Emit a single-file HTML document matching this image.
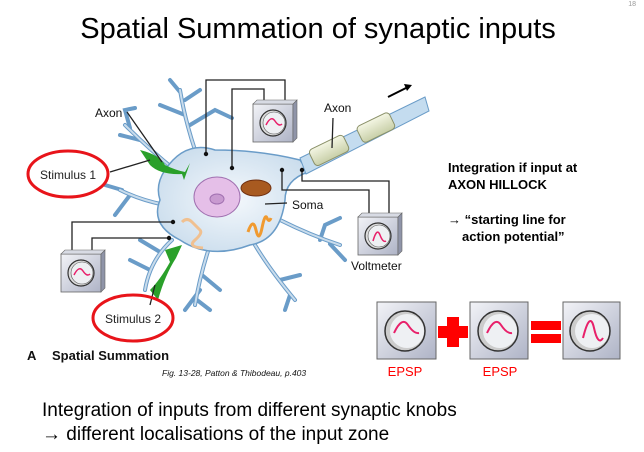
<!DOCTYPE html>
<html><head><meta charset="utf-8"><style>
body{margin:0;background:#fff;}
svg{display:block;font-family:"Liberation Sans",sans-serif;}
</style></head><body>
<svg width="644" height="452" viewBox="0 0 644 452" xmlns="http://www.w3.org/2000/svg">
<defs>
<radialGradient id="soma" cx="0.5" cy="0.5" r="0.6"><stop offset="0" stop-color="#f4f8fc"/><stop offset="1" stop-color="#c9dcec"/></radialGradient>
<linearGradient id="box" x1="0" y1="0" x2="1" y2="1"><stop offset="0" stop-color="#f2f3f7"/><stop offset="1" stop-color="#aeb3c6"/></linearGradient>
<linearGradient id="myel" x1="0" y1="0" x2="0" y2="1"><stop offset="0" stop-color="#f4f6e4"/><stop offset="1" stop-color="#c8cfa8"/></linearGradient>
<g id="vmb">
<rect x="0" y="4" width="40" height="38" fill="url(#box)" stroke="#666" stroke-width="0.8"/>
<path d="M40 4 L44 0 L44 38 L40 42Z" fill="#8f94a8" stroke="#666" stroke-width="0.6"/>
<path d="M0 4 L4 0 L44 0 L40 4Z" fill="#d8dbe4" stroke="#666" stroke-width="0.6"/>
<circle cx="20" cy="23" r="13" fill="#ddd" stroke="#333" stroke-width="1.2"/>
<circle cx="21" cy="23" r="11" fill="#eef0f3" stroke="#555" stroke-width="0.6"/>
</g>
<g id="vm"><use href="#vmb"/><path d="M13 25 Q18 15 22 21 T29 24" fill="none" stroke="#e8206a" stroke-width="1.5"/></g>
<g id="vmp"><use href="#vmb"/><path d="M15 28 Q19 14 22 22 T28 28" fill="none" stroke="#e8206a" stroke-width="1.5"/></g>
</defs>
<text x="636" y="6" font-size="7" fill="#999" text-anchor="end">18</text>
<text x="318" y="38" font-size="29" text-anchor="middle" fill="#000">Spatial Summation of synaptic inputs</text>

<g fill="none" stroke="#6a9cc8" stroke-width="4" stroke-linecap="round">
<path d="M195 150 Q185 120 180 90 M185 115 L160 105 M180 92 L170 80 M185 100 L200 90 M190 125 L215 110 L232 118"/>
<path d="M175 170 Q150 150 125 125 M140 140 L120 135 M130 128 L125 110 L135 108"/>
<path d="M165 205 Q140 200 120 190 M130 195 L115 215 M122 190 L105 185"/>
<path d="M172 240 Q150 260 145 290 M150 270 L130 260 M160 252 L140 240"/>
<path d="M210 245 Q200 275 195 305 M200 290 L185 310 M197 300 L210 310 M202 275 L220 290"/>
<path d="M255 245 Q270 270 295 300 M280 280 L300 275 M290 295 L285 310"/>
<path d="M280 220 Q310 235 340 245 M320 240 L325 225 L340 218 M330 244 L345 260"/>
</g>
<g fill="none" stroke="#c9dcec" stroke-width="2" stroke-linecap="round">
<path d="M195 150 Q185 120 180 90 M175 170 Q150 150 125 125 M165 205 Q140 200 120 190 M172 240 Q150 260 145 290 M210 245 Q200 275 195 305 M255 245 Q270 270 295 300 M280 220 Q310 235 340 245"/>
</g>
<path d="M165 170 Q185 140 215 150 Q260 150 300 160 L308 172 Q285 180 285 200 Q280 240 250 245 Q210 260 180 240 Q150 225 160 200 Q155 185 165 170Z" fill="url(#soma)" stroke="#6a9cc8" stroke-width="1.5"/>
<path d="M300 158 L425 97 L429 111 L306 174Z" fill="#c4dcef" stroke="#6a9cc8" stroke-width="1"/>
<g transform="rotate(-26 330 150)"><rect x="310" y="141" width="38" height="18" rx="4" fill="url(#myel)" stroke="#8a9068"/></g>
<g transform="rotate(-26 375 128)"><rect x="358" y="119" width="36" height="18" rx="4" fill="url(#myel)" stroke="#8a9068"/></g>
<path d="M388 97 L410 86" stroke="#000" stroke-width="2"/><path d="M412 85 L404 84 L407 91Z" fill="#000"/>
<ellipse cx="217" cy="197" rx="23" ry="20" fill="#e5bfe8" stroke="#a070b0"/>
<ellipse cx="217" cy="199" rx="7" ry="5" fill="#c89ad0" stroke="#a070b0"/>
<ellipse cx="256" cy="188" rx="15" ry="8" fill="#a85a20" stroke="#703010"/>
<path d="M182 222 q5 -5 10 0 t8 8 t-5 10 t8 8" fill="none" stroke="#f0c090" stroke-width="3"/>
<path d="M248 232 q5 -15 8 -2 t6 -2 t5 -10 t4 0" fill="none" stroke="#f09a30" stroke-width="3"/>
<path d="M140 150 Q160 155 165 165 Q175 170 185 172 L190 163 L184 180 L182 174 Q160 175 150 165" fill="#2aa02a"/>
<path d="M150 290 Q160 280 170 262 L165 250 L182 245 L176 258 Q165 275 158 300Z" fill="#2aa02a"/>
<g fill="none" stroke="#222" stroke-width="1.3">
<path d="M206 153 L206 80 L285 80 L285 104"/>
<path d="M232 168 L232 89 L264 89 L264 104"/>
<path d="M282 170 L282 190 L369 190 L369 214"/>
<path d="M302 170 L302 181 L389 181 L389 214"/>
<path d="M173 222 L72 222 L72 252"/>
<path d="M169 238 L92 238 L92 252"/>
<path d="M127 112 L162 162 M110 172 L150 160 M150 305 L155 285 M265 204 L287 203 M333 118 L332 148"/>
</g>
<g fill="#111"><circle cx="206" cy="154" r="2.2"/><circle cx="232" cy="168" r="2.2"/><circle cx="282" cy="170" r="2.2"/><circle cx="302" cy="170" r="2.2"/><circle cx="173" cy="222" r="2.2"/><circle cx="169" cy="238" r="2.2"/></g>
<use href="#vm" transform="translate(253,100)"/>
<use href="#vmp" transform="translate(358,213)"/>
<use href="#vm" transform="translate(61,250)"/>
<g font-size="12" fill="#111">
<text x="95" y="117">Axon</text><text x="324" y="112">Axon</text><text x="292" y="209">Soma</text><text x="351" y="270">Voltmeter</text>
</g>
<ellipse cx="68" cy="174" rx="40" ry="23" fill="none" stroke="#e8141a" stroke-width="3"/>
<text x="68" y="179" font-size="12" text-anchor="middle" fill="#222">Stimulus 1</text>
<ellipse cx="133" cy="318" rx="40" ry="23" fill="none" stroke="#e8141a" stroke-width="3"/>
<text x="133" y="323" font-size="12" text-anchor="middle" fill="#222">Stimulus 2</text>
<text x="27" y="360" font-size="13" font-weight="bold" fill="#111">A</text>
<text x="52" y="360" font-size="13" font-weight="bold" fill="#111">Spatial Summation</text>
<text x="162" y="376" font-size="8.5" font-style="italic" fill="#111">Fig. 13-28, Patton &amp; Thibodeau, p.403</text>
<g font-size="13" font-weight="bold" fill="#000">
<text x="448" y="172">Integration if input at</text>
<text x="448" y="189">AXON HILLOCK</text>
<text x="448" y="224">→ “starting line for</text>
<text x="462" y="241">action potential”</text>
</g>
<g>
<rect x="377" y="302" width="59" height="57" fill="url(#box)" stroke="#666"/>
<circle cx="405" cy="331" r="20" fill="#ccc" stroke="#333" stroke-width="1.5"/><circle cx="407" cy="331" r="17" fill="#eef0f3"/>
<path d="M394 333 Q402 316 408 325 T419 333" fill="none" stroke="#e8206a" stroke-width="2"/>
<rect x="470" y="302" width="58" height="57" fill="url(#box)" stroke="#666"/>
<circle cx="498" cy="331" r="20" fill="#ccc" stroke="#333" stroke-width="1.5"/><circle cx="500" cy="331" r="17" fill="#eef0f3"/>
<path d="M487 333 Q495 316 501 325 T512 333" fill="none" stroke="#e8206a" stroke-width="2"/>
<rect x="563" y="302" width="57" height="57" fill="url(#box)" stroke="#666"/>
<circle cx="590" cy="331" r="20" fill="#ccc" stroke="#333" stroke-width="1.5"/><circle cx="592" cy="331" r="17" fill="#eef0f3"/>
<path d="M583 338 Q590 310 594 328 T603 338" fill="none" stroke="#e8206a" stroke-width="2"/>
<rect x="438" y="326" width="30" height="12" fill="#f00"/><rect x="447" y="317" width="12" height="30" fill="#f00"/>
<rect x="531" y="321" width="30" height="9" fill="#f00"/><rect x="531" y="334" width="30" height="9" fill="#f00"/>
<text x="405" y="376" font-size="13" fill="#f00" text-anchor="middle">EPSP</text>
<text x="500" y="376" font-size="13" fill="#f00" text-anchor="middle">EPSP</text>
</g>
<text x="42" y="416" font-size="19" fill="#000">Integration of inputs from different synaptic knobs</text>
<text x="42" y="440" font-size="19" fill="#000">→ different localisations of the input zone</text>
</svg>
</body></html>
